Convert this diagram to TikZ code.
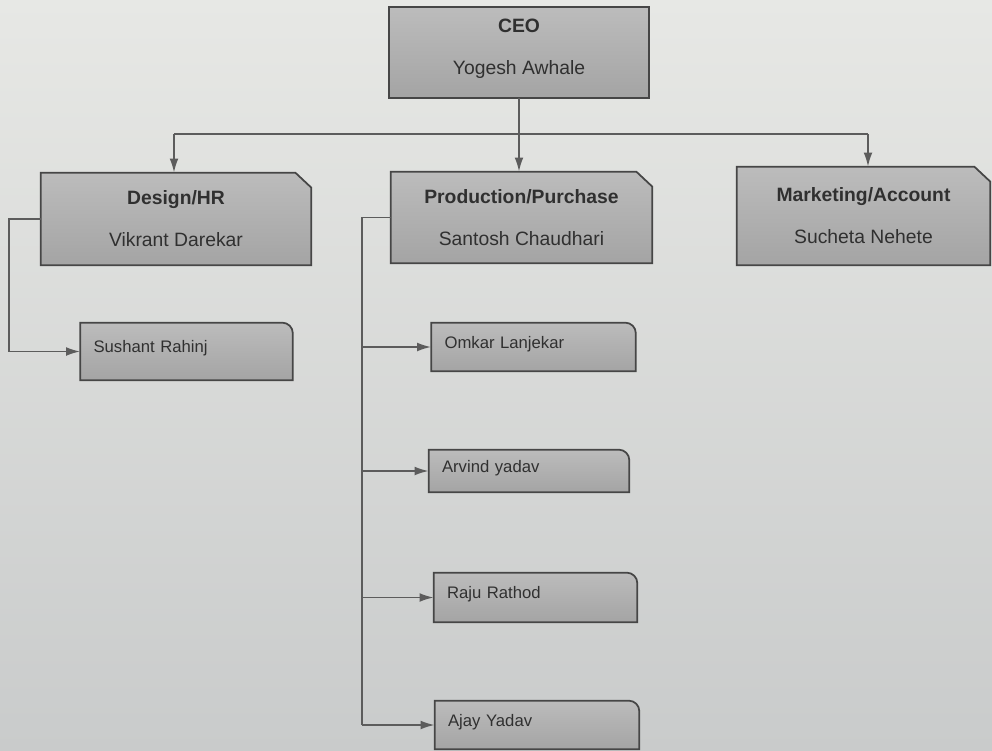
\documentclass[tikz,border=0pt]{standalone}
\usepackage{fontspec}
\setmainfont{Liberation Sans}
\usepackage{xcolor}
\usepackage{tikz}
\usetikzlibrary{arrows.meta,backgrounds,calc,positioning}
\definecolor{paperlight}{RGB}{231,232,229}
\definecolor{paperdark}{RGB}{201,203,203}
\definecolor{boxlight}{RGB}{188,188,188}
\definecolor{boxgray}{RGB}{164,164,164}
\definecolor{boxedge}{RGB}{70,70,70}
\definecolor{linkgray}{RGB}{92,92,92}
\definecolor{inkgray}{RGB}{48,48,48}
\newcommand{\deptbox}[1]{
	(#1.south west) --
	(#1.north west) --
	($(#1.north east)+(-16,0)$) --
	($(#1.north east)+(0,15)$) --
	(#1.south east) --
	cycle;
	}
\newcommand{\kidbox}[1]{
	(#1.south west) --
	(#1.north west) [rounded corners=6pt] --
	(#1.north east) [sharp corners] --
	(#1.south east) --
	cycle;
	}

\begin{document}
\begin{tikzpicture}[x=0.02cm, y=-0.02cm,
	boxfill/.style={draw=boxedge, line width=1pt, top color=boxlight, bottom color=boxgray},
	dept/.style={inner sep=0pt, align=center, text=inkgray, font=\fontsize{11}{24}\selectfont},
	kid/.style={inner xsep=0.26cm, inner ysep=0pt, align=left, text=inkgray, text depth=0.2cm, font=\fontsize{9.5}{11}\selectfont},
	line/.style={draw=linkgray, line width=1pt},
	link/.style={line, -{Latex[length=8pt,width=5pt]}}]

	\useasboundingbox (0,0) rectangle (992,751);

	% head and departments
	\path (519,52.5) node[dept, minimum width=5.2cm, minimum height=1.82cm, text depth=0.24cm] (ceo) {{\bfseries CEO}\\Yogesh Awhale}
	(176,219) node[dept, minimum width=5.4cm, minimum height=1.84cm] (design) {{\bfseries Design/HR}\\Vikrant Darekar}
	(521.5,217.5) node[dept, minimum width=5.22cm, minimum height=1.82cm] (prod) {{\bfseries Production/Purchase}\\Santosh Chaudhari}
	(863.5,216) node[dept, minimum width=5.06cm, minimum height=1.96cm] (mkt) {{\bfseries Marketing/Account}\\Sucheta Nehete};

	% staff
	\path (186.5,351.5) node[kid, minimum height=1.14cm, text width=3.72cm] (sushant) {Sushant Rahinj}
	(533.5,347) node[kid, minimum height=0.96cm, text width=3.56cm] (omkar) {Omkar Lanjekar}
	(529,471) node[kid, minimum height=0.84cm, text width=3.48cm] (arvind) {Arvind yadav}
	(535.5,597.5) node[kid, minimum height=0.98cm, text width=3.54cm] (raju) {Raju Rathod}
	(537,725) node[kid, minimum height=0.96cm, text width=3.56cm] (ajay) {Ajay Yadav};

	\begin{pgfonlayer}{background}
	\shade[top color=paperlight, bottom color=paperdark] (0,0) rectangle (992,751);
	\draw[boxfill] (ceo.south west) rectangle (ceo.north east);
	\foreach \d in {design,prod,mkt}
		\draw[boxfill]\deptbox{\d};
	\foreach \k in {sushant,omkar,arvind,raju,ajay}
		\draw[boxfill]\kidbox{\k};
	\end{pgfonlayer}

	% bus from the CEO
	\coordinate (busL) at (174,134);
	\coordinate (busR) at (868,134);
	\draw[line] (busL) -- (busR);
	\draw[link] (ceo.south) -- (ceo.south |- prod.north);
	\draw[link] (busL) -- (busL |- design.north);
	\draw[link] (busR) -- (busR |- mkt.north);

	% reports
	\draw[link] (design.west) -- ++(-32,0) |- (sushant.west);
	\coordinate (spine) at ($(prod.west)+(-29,0)$);
	\draw[line] (prod.west) -- (spine) -- (spine |- ajay.west);
	\foreach \k in {omkar,arvind,raju,ajay}
		\draw[link] (spine |- \k.west) -- (\k.west);

\end{tikzpicture}
\end{document}
